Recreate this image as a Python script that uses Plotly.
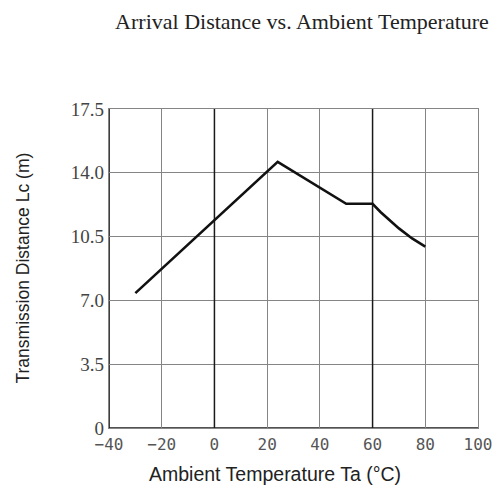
import plotly.graph_objects as go

temp_c = [-30, 0, 24, 50, 60, 63, 66, 70, 75, 80]
distance_m = [7.4, 11.4, 14.6, 12.3, 12.3, 11.85, 11.45, 10.95, 10.4, 9.95]

x_ticks = [-40, -20, 0, 20, 40, 60, 80, 100]
x_tick_labels = ["\u221240", "\u221220", "0", "20", "40", "60", "80", "100"]
y_ticks = [0, 3.5, 7.0, 10.5, 14.0, 17.5]
y_tick_labels = ["0", "3.5", "7.0", "10.5", "14.0", "17.5"]

fig = go.Figure()
fig.add_trace(go.Scatter(x=temp_c, y=distance_m, mode="lines",
                         line=dict(color="#111111", width=2.6),
                         showlegend=False, hoverinfo="skip"))

# darker emphasis lines at 0 and 60
for xv in [0, 60]:
    fig.add_shape(type="line", x0=xv, x1=xv, y0=0, y1=17.5, xref="x", yref="y",
                  line=dict(color="#1a1a1a", width=1.5), layer="between")

fig.update_layout(
    width=499, height=487,
    margin=dict(l=109, r=21, t=109, b=59, autoexpand=False),
    paper_bgcolor="white", plot_bgcolor="white",
    title=dict(text="Arrival Distance vs. Ambient Temperature",
               font=dict(family="Liberation Serif", size=22, color="#222222"),
               x=302/499, xanchor="center", y=1 - 21/487, yanchor="middle"),
    xaxis=dict(range=[-40, 100], tickvals=x_ticks, ticktext=x_tick_labels,
               showgrid=True, gridcolor="#858585", gridwidth=1.4,
               zeroline=False, showline=True, linecolor="#858585", linewidth=1.4,
               mirror=True, ticks="", ticklen=0, ticklabelstandoff=2,
               tickfont=dict(family="DejaVu Sans Mono", size=16, color="#555555")),
    yaxis=dict(range=[0, 17.5], tickvals=y_ticks, ticktext=y_tick_labels,
               showgrid=True, gridcolor="#858585", gridwidth=1.4,
               zeroline=False, showline=True, linecolor="#858585", linewidth=1.4,
               mirror=True, ticks="", ticklen=0,
               tickfont=dict(family="Liberation Serif", size=19, color="#444444")),
    annotations=[
        dict(text="Ambient Temperature Ta (\u00b0C)", xref="paper", yref="paper",
             x=(275 - 109) / 369, y=-46 / 319, xanchor="center", yanchor="middle",
             showarrow=False,
             font=dict(family="Liberation Sans", size=19.5, color="#222222")),
        dict(text="Transmission Distance Lc (m)", xref="paper", yref="paper",
             x=(22 - 109) / 369, y=0.5, xanchor="center", yanchor="middle",
             textangle=-90, showarrow=False,
             font=dict(family="Liberation Sans", size=17.5, color="#222222")),
    ],
)

# darker left and bottom axes
fig.add_shape(type="line", x0=0, x1=0, y0=0, y1=1, xref="paper", yref="paper",
              line=dict(color="#1a1a1a", width=1.7), layer="between")
fig.add_shape(type="line", x0=0, x1=1, y0=0, y1=0, xref="paper", yref="paper",
              line=dict(color="#1a1a1a", width=1.7), layer="between")

fig.write_html("out.html", config={"displayModeBar": False},
               post_script="document.body.style.margin='0';document.body.style.padding='0';")
